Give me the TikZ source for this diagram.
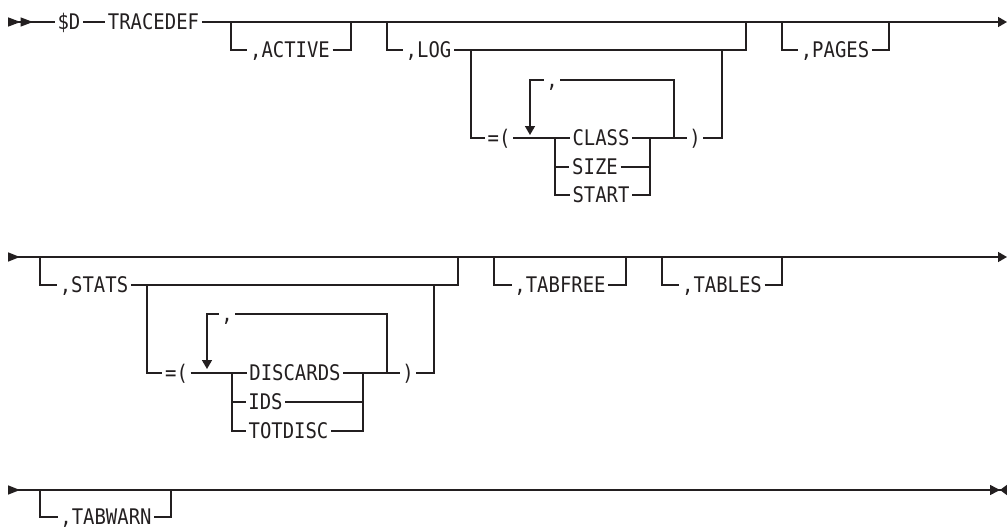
\documentclass[tikz,border=0pt]{standalone}
\usepackage{fontspec}
\newfontfamily\railfont[FakeStretch=0.88]{DejaVu Sans Mono}
\usetikzlibrary{arrows.meta}
\definecolor{ink}{RGB}{35,31,32}
\tikzset{
  every picture/.style={color=ink, line width=1.5pt},
  tok/.style={font={\railfont\fontsize{21.5}{22}\selectfont}, inner xsep=2pt, inner ysep=0pt, text height=15.6pt, text depth=0pt},
  headmark/.style={arrows={{Triangle[reversed,length=12.5pt,width=9pt,sep=0pt]Triangle[reversed,length=12.5pt,width=9pt,sep=0pt]}-}},
  tailmark/.style={arrows={-{Triangle[length=9pt,width=10pt]}}},
  midrow/.style={arrows={{Triangle[reversed,length=12pt,width=9pt]}-{Triangle[length=9pt,width=10pt]}}},
  lastrow/.style={arrows={{Triangle[reversed,length=12pt,width=9pt]}-{Triangle[length=10pt,width=10pt,sep=0pt]Triangle[reversed,length=7pt,width=10pt,sep=0pt]}}},
  repeat/.style={arrows={-{Triangle[length=9pt,width=10pt]}}},
}
\begin{document}
\begin{tikzpicture}[x=1pt,y=-1pt]
  % $D TRACEDEF syntax: three rows, each option hangs below the main rail
  \useasboundingbox (0,0) rectangle (1007,527);
  % row 1
  \coordinate (s1) at (8,22);
  \coordinate (e1) at (1007,22);
  \node[tok] (D) at (69,22) {\$D};
  \node[tok] (TD) at (153.5,22) {TRACEDEF};
  \draw[headmark] (s1) -- (D);
  \draw (D) -- (TD);
  \draw[tailmark] (TD) -- (e1);
  \coordinate (actL) at (231,22);
  \coordinate (actR) at (351,22);
  \node[tok] (active) at (290,50) {,ACTIVE};
  \draw (actL) |- (active) -| (actR);
  \coordinate (logL) at (387,22);
  \coordinate (logR) at (746,22);
  \node[tok] (log) at (428.5,50) {,LOG};
  \draw (logL) |- (log) -| (logR);
  \coordinate (eq1L) at (471,50);
  \coordinate (eq1R) at (722,50);
  \node[tok] (eq1) at (499,138) {=(};
  \node[tok] (rp1) at (695,138) {)};
  \draw (eq1L) |- (eq1);
  \draw (rp1) -| (eq1R);
  \node[tok] (class) at (601,138) {CLASS};
  \node[tok] (size) at (595,167) {SIZE};
  \node[tok] (start) at (601,195) {START};
  \coordinate (ch1L) at (555,138);
  \coordinate (ch1R) at (650,138);
  \draw (eq1) -- (class) -- (rp1);
  \draw (ch1L) |- (size) -| (ch1R);
  \draw (ch1L) |- (start) -| (ch1R);
  \coordinate (lp1L) at (530,135);
  \coordinate (lp1R) at (674,138);
  \node[tok] (cm1) at (552,80) {,};
  \draw (lp1R) |- (cm1);
  \draw[repeat] (cm1) -| (lp1L);
  \coordinate (pgL) at (782,22);
  \coordinate (pgR) at (889,22);
  \node[tok] (pages) at (835,50) {,PAGES};
  \draw (pgL) |- (pages) -| (pgR);
  % row 2
  \coordinate (s2) at (8,257);
  \coordinate (e2) at (1007,257);
  \draw[midrow] (s2) -- (e2);
  \coordinate (stL) at (40,257);
  \coordinate (stR) at (458,257);
  \node[tok] (stats) at (94,285) {,STATS};
  \draw (stL) |- (stats) -| (stR);
  \coordinate (eq2L) at (147,285);
  \coordinate (eq2R) at (434,285);
  \node[tok] (eq2) at (176.5,373) {=(};
  \node[tok] (rp2) at (408,373) {)};
  \draw (eq2L) |- (eq2);
  \draw (rp2) -| (eq2R);
  \node[tok] (discards) at (295,373) {DISCARDS};
  \node[tok] (ids) at (265.5,402) {IDS};
  \node[tok] (totdisc) at (288.5,431) {TOTDISC};
  \coordinate (ch2L) at (232,373);
  \coordinate (ch2R) at (363,373);
  \draw (eq2) -- (discards) -- (rp2);
  \draw (ch2L) |- (ids) -| (ch2R);
  \draw (ch2L) |- (totdisc) -| (ch2R);
  \coordinate (lp2L) at (207,369);
  \coordinate (lp2R) at (387,373);
  \node[tok] (cm2) at (227,314) {,};
  \draw (lp2R) |- (cm2);
  \draw[repeat] (cm2) -| (lp2L);
  \coordinate (tfL) at (494,257);
  \coordinate (tfR) at (626,257);
  \node[tok] (tabfree) at (560,285) {,TABFREE};
  \draw (tfL) |- (tabfree) -| (tfR);
  \coordinate (tbL) at (662,257);
  \coordinate (tbR) at (782,257);
  \node[tok] (tables) at (722,285) {,TABLES};
  \draw (tbL) |- (tables) -| (tbR);
  % row 3
  \coordinate (s3) at (8,490);
  \coordinate (e3) at (1007,490);
  \draw[lastrow] (s3) -- (e3);
  \coordinate (twL) at (40,490);
  \coordinate (twR) at (171,490);
  \node[tok] (tabwarn) at (106,517) {,TABWARN};
  \draw (twL) |- (tabwarn) -| (twR);
  \coordinate (bL) at (177,490);
  \coordinate (bR) at (201,490);
  \draw[line width=2.4pt] (bL) -- (bR);
\end{tikzpicture}
\end{document}
